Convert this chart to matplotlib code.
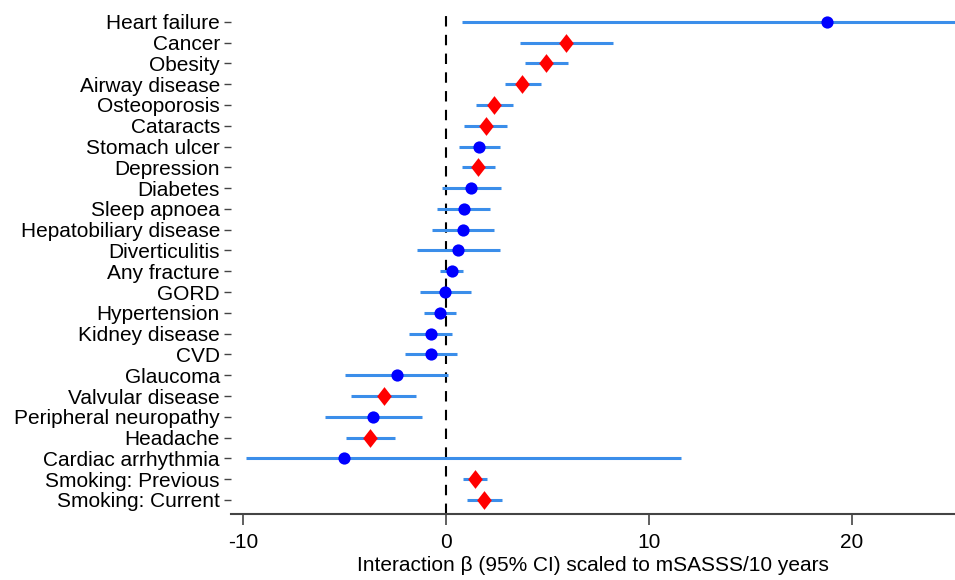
import matplotlib
matplotlib.use("Agg")
import matplotlib.pyplot as plt
from matplotlib.path import Path

plt.rcParams['font.family'] = ['Liberation Sans', 'DejaVu Sans']

categories = ["Heart failure", "Cancer", "Obesity", "Airway disease", "Osteoporosis",
              "Cataracts", "Stomach ulcer", "Depression", "Diabetes", "Sleep apnoea",
              "Hepatobiliary disease", "Diverticulitis", "Any fracture", "GORD",
              "Hypertension", "Kidney disease", "CVD", "Glaucoma", "Valvular disease",
              "Peripheral neuropathy", "Headache", "Cardiac arrhythmia",
              "Smoking: Previous", "Smoking: Current"]
estimate = [18.8, 5.94, 4.94, 3.73, 2.38, 1.96, 1.64, 1.60, 1.22, 0.88, 0.84, 0.61,
            0.29, -0.05, -0.30, -0.76, -0.76, -2.44, -3.08, -3.59, -3.74, -5.02, 1.42, 1.89]
ci_low = [0.81, 3.66, 3.91, 2.89, 1.49, 0.91, 0.64, 0.77, -0.21, -0.43, -0.69, -1.44,
          -0.30, -1.30, -1.10, -1.81, -2.03, -4.99, -4.68, -5.97, -4.93, -9.89, 0.84, 1.02]
ci_high = [26.0, 8.22, 6.01, 4.67, 3.32, 3.00, 2.64, 2.41, 2.71, 2.18, 2.36, 2.64,
           0.86, 1.22, 0.49, 0.31, 0.52, 0.11, -1.48, -1.19, -2.54, 11.59, 2.04, 2.78]
significant = [False, True, True, True, True, True, False, True, False, False, False, False,
               False, False, False, False, False, False, True, False, True, False, True, True]
xticks = [-10, 0, 10, 20]
xlabel = "Interaction β (95% CI) scaled to mSASSS/10 years"

diamond = Path([(0, 1), (0.78, 0), (0, -1), (-0.78, 0), (0, 1)],
               [Path.MOVETO, Path.LINETO, Path.LINETO, Path.LINETO, Path.CLOSEPOLY])

fig = plt.figure(figsize=(9.55, 5.8), dpi=100)
ax = fig.add_axes([0.242, 0.114, 0.758, 0.871])

ys = list(range(len(categories)))
ax.axvline(0, color="black", lw=1.5, ls=(0, (5, 4)), zorder=1)
ax.hlines(ys, ci_low, ci_high, color="#3B8EEA", lw=2.2, zorder=2)
for y, e, s in zip(ys, estimate, significant):
    if s:
        ax.plot(e, y, marker=diamond, color="#FF0000", ms=13.5, mew=0, zorder=3)
    else:
        ax.plot(e, y, marker="o", color="#0000FF", ms=8.8, mew=0, zorder=3)

ax.set_xlim(-10.6, 25.1)
ax.set_ylim(len(categories) - 1 + 0.67, -0.63)
ax.set_yticks(ys)
ax.set_yticklabels(categories, fontsize=15)
ax.set_xticks(xticks)
ax.set_xticklabels([str(t) for t in xticks], fontsize=15)
ax.set_xlabel(xlabel, fontsize=15, labelpad=3)
for sp in ["top", "right", "left"]:
    ax.spines[sp].set_visible(False)
ax.spines["bottom"].set_color("#444444")
ax.spines["bottom"].set_linewidth(1.5)
ax.tick_params(axis="x", length=8, width=1.2, color="#444444", pad=6)
ax.tick_params(axis="y", length=5, width=1.0, color="#444444", pad=3)

fig.savefig("out.png", dpi=100, facecolor="white")
